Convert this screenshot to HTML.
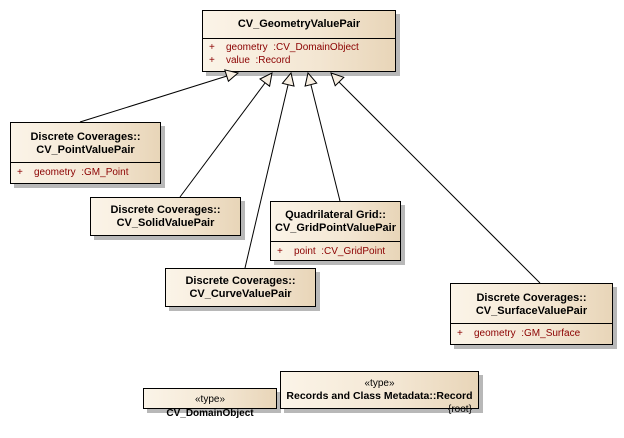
<!DOCTYPE html>
<html><head><style>
body{margin:0;width:624px;height:438px;background:#fff;position:relative;font-family:"Liberation Sans",Arial,sans-serif;overflow:hidden}
.b{position:absolute;border:1px solid #000;background:linear-gradient(90deg,#fbf4e8,#f3e6d2 60%,#e8d5b8);box-shadow:4px 4px 0 #b8b8b8;box-sizing:border-box}
.h{font-weight:bold;font-size:11px;text-align:center;line-height:13px}
.a{border-top:1px solid #000;font-size:10px;color:#8b0000;padding:3px 6px;line-height:13px}
.a span{display:inline-block;width:17px}
.s{font-size:10px;text-align:center}
</style></head><body>
<div class="b" style="left:202px;top:10px;width:194px;height:62px"><div class="h" style="height:27px;line-height:27px">CV_GeometryValuePair</div><div class="a" style="padding-top:2px"><span>+</span>geometry &nbsp;:CV_DomainObject<br><span>+</span>value &nbsp;:Record</div></div>
<svg width="624" height="438" style="position:absolute;left:0;top:0">
<g stroke="#000" stroke-width="1" fill="#f8efe2">
<line x1="80" y1="122" x2="227" y2="76"/>
<line x1="180" y1="197" x2="265" y2="83"/>
<line x1="245" y1="268" x2="288" y2="85"/>
<line x1="340" y1="201" x2="311" y2="85"/>
<line x1="540" y1="283" x2="339" y2="82"/>
<polygon points="238,73 228.4,81.3 224.8,69.9"/>
<polygon points="272,73 269.6,86.2 260,79"/>
<polygon points="291,73 294,86.1 282.4,83.3"/>
<polygon points="308,73 316.7,83.1 305.1,86.1"/>
<polygon points="331,73 343.8,77.3 335.2,85.7"/>
</g></svg>
<div class="b" style="left:10px;top:122px;width:151px;height:62px"><div class="h" style="padding:8px 0 5px">Discrete Coverages::<br>CV_PointValuePair</div><div class="a"><span>+</span>geometry &nbsp;:GM_Point</div></div>
<div class="b" style="left:90px;top:197px;width:151px;height:39px"><div class="h" style="padding-top:6px">Discrete Coverages::<br>CV_SolidValuePair</div></div>
<div class="b" style="left:270px;top:201px;width:131px;height:60px"><div class="h" style="padding:7px 0 6px">Quadrilateral Grid::<br>CV_GridPointValuePair</div><div class="a"><span>+</span>point &nbsp;:CV_GridPoint</div></div>
<div class="b" style="left:165px;top:268px;width:151px;height:39px"><div class="h" style="padding-top:6px">Discrete Coverages::<br>CV_CurveValuePair</div></div>
<div class="b" style="left:450px;top:283px;width:163px;height:62px"><div class="h" style="padding:8px 0 5px">Discrete Coverages::<br>CV_SurfaceValuePair</div><div class="a"><span>+</span>geometry &nbsp;:GM_Surface</div></div>
<div class="b" style="left:143px;top:388px;width:134px;height:21px"><div class="s" style="padding-top:6px;line-height:10px">«type»</div></div>
<div class="h" style="position:absolute;left:143px;top:407px;width:134px;font-size:10px">CV_DomainObject</div>
<div class="b" style="left:280px;top:371px;width:199px;height:38px"><div class="s" style="padding-top:6px;line-height:12px">«type»</div><div class="h" style="font-size:10.5px">Records and Class Metadata::Record</div></div>
<div style="position:absolute;left:448px;top:404px;font-size:10px">{root}</div>
</body></html>
